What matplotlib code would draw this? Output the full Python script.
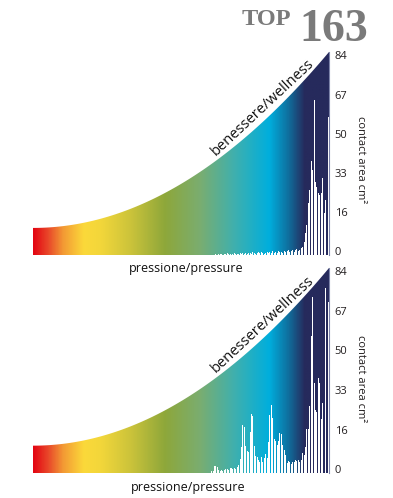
import matplotlib.pyplot as plt
import numpy as np
from matplotlib.colors import LinearSegmentedColormap
from matplotlib.patches import Polygon

plt.rcParams['font.family'] = ['Open Sans', 'DejaVu Sans']

# pressure bins (left = low, right = high)
n_bins = 208
# tick labels sit slightly inside the 0..84 band in the original artwork
tick_pos = [1.6, 17.8, 34.0, 50.2, 66.4, 82.6]
tick_labels = ['0', '16', '33', '50', '67', '84']

# contact area per pressure bin, upper chart
top_noise = [0.4, 0, 0.5, 0.3, 0.6, 0, 0.4, 0.5, 0.7, 0.3, 0.5, 0, 0.6, 0.8, 0.4, 0.6, 0.5, 0.9, 0.3, 0.7, 0.6,
             0.8, 0.5, 1.0, 0.7, 0.6, 1.2, 0.8, 0.5, 0.9, 1.1, 0.7, 1.3, 0.9, 0.6, 1.0, 1.4, 0.8, 1.2, 0.9, 1.5,
             1.0, 1.3, 0.8, 1.6, 1.1, 1.4, 0.9, 1.8, 1.2, 1.5, 2.0, 1.3, 1.7, 2.2, 1.4, 1.9, 2.5, 1.6, 2.1, 2.8]
top_peak = [3.4, 5.5, 9, 12.4, 21.5, 27, 39, 35, 64, 30, 28, 25.6, 25, 25.5, 31.8, 17.3, 22.7, 0, 57]
top_counts = [0] * 128 + top_noise + top_peak

# contact area per pressure bin, lower chart
bottom_noise = [0.8, 1.0, 2.9, 3.0, 2.6, 1.2, 1.0, 1.4, 0.9, 1.2, 1.8, 1.6, 1.2, 2.0, 2.2, 1.5, 2.1, 1.8, 2.4, 3.3]
bottom_mid = [5.6, 10.8, 19.7, 19.0, 11, 8.9, 8.5, 17, 24.2, 23.5, 11, 7, 6.5, 5.3, 4.7, 6.4, 4.7, 6, 7.8, 6,
              12.8, 23.8, 27.9, 22.5, 13.8, 13.3, 11.3, 13.3, 16.3, 15.9, 11.5, 9.5, 7.4, 4, 4.9, 4.5, 3.6, 4.5,
              4.5, 5.2, 4.8, 5.5, 4.5, 5.2, 8.2, 7.4, 10.8, 17.9, 18, 27.5]
bottom_peak = [56, 72, 37, 26, 25, 39, 37, 22, 28.7, 0, 76, 0, 70]
bottom_counts = [0] * 125 + bottom_noise + bottom_mid + bottom_peak

grad_colors = [(0.0, '#e30613'), (0.05, '#e9492a'), (0.10, '#f39a34'), (0.17, '#fbd93a'),
               (0.23, '#f2d63a'), (0.33, '#cbc33a'), (0.445, '#8ea73a'), (0.565, '#7aad70'),
               (0.68, '#40b0ad'), (0.80, '#00aedd'), (0.865, '#0f6f9e'), (0.92, '#262a5c'),
               (1.0, '#262a5c')]
cmap = LinearSegmentedColormap.from_list('wellness', grad_colors)
curve_low = 11.2


def draw_panel(ax, counts):
    xs = np.linspace(0, n_bins, 300)
    top = curve_low + (84 - curve_low) * (xs / n_bins) ** 2
    verts = [(0, 0)] + list(zip(xs, top)) + [(n_bins, 0)]
    shape = Polygon(verts, closed=True, facecolor='none', edgecolor='none')
    ax.add_patch(shape)
    grad = np.linspace(0, 1, 600).reshape(1, -1)
    im = ax.imshow(grad, cmap=cmap, aspect='auto', extent=(0, n_bins, 0, 84),
                   interpolation='bilinear')
    im.set_clip_path(shape)
    ax.bar(np.arange(n_bins) + 0.5, counts, width=0.72, color='white', linewidth=0)
    ax.set_xlim(0, n_bins)
    ax.set_ylim(0, 84)
    for s in ['left', 'top', 'bottom']:
        ax.spines[s].set_visible(False)
    ax.spines['right'].set_color('#7d84aa')
    ax.spines['right'].set_linewidth(0.8)
    ax.set_xticks([])
    ax.yaxis.tick_right()
    ax.set_yticks(tick_pos)
    ax.set_yticklabels(tick_labels)
    ax.tick_params(axis='y', length=0, pad=4, labelsize=8, labelcolor='#231f20')
    ax.text(161.5, 61, 'benessere/wellness', rotation=43, rotation_mode='anchor',
            ha='center', va='center', fontsize=10.5, color='#111111')


fig = plt.figure(figsize=(3.93, 4.98), dpi=100)
ax1 = fig.add_axes([33 / 393, 243 / 498, 296 / 393, 203 / 498])
ax2 = fig.add_axes([33 / 393, 25 / 498, 296 / 393, 205 / 498])
draw_panel(ax1, top_counts)
draw_panel(ax2, bottom_counts)

fig.text(186 / 393, 1 - 268 / 498, 'pressione/pressure', ha='center', va='center', fontsize=9, color='#111111')
fig.text(188 / 393, 1 - 487 / 498, 'pressione/pressure', ha='center', va='center', fontsize=9, color='#111111')
fig.text(360 / 393, 1 - 160 / 498, 'contact area cm²', rotation=-90, ha='center', va='center', fontsize=8, color='#231f20')
fig.text(361 / 393, 1 - 379 / 498, 'contact area cm²', rotation=-90, ha='center', va='center', fontsize=8, color='#231f20')

fig.text(242 / 393, 1 - 25 / 498, 'TOP', ha='left', va='baseline', fontsize=17.5,
         family='Liberation Serif', weight='bold', color='#7a7a7a')
fig.text(299 / 393, 1 - 41 / 498, '163', ha='left', va='baseline', fontsize=33,
         family='Liberation Serif', weight='bold', color='#7a7a7a')

fig.savefig('out.png', dpi=100)
